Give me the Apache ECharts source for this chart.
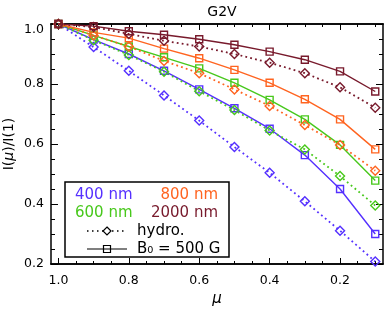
<!DOCTYPE html>
<html><head><meta charset="utf-8">
<script src="https://cdn.jsdelivr.net/npm/echarts@6/dist/echarts.min.js"></script>
<style>html,body{margin:0;padding:0;background:#fff}#c{width:387px;height:309px}</style>
</head><body><div id="c"></div>
<script>
// ---- data ----
const mu = [1.0, 0.9, 0.8, 0.7, 0.6, 0.5, 0.4, 0.3, 0.2, 0.1];
const hydro400  = [1.0, 0.923, 0.844, 0.762, 0.678, 0.590, 0.504, 0.409, 0.311, 0.208];
const mag400    = [1.0, 0.948, 0.900, 0.844, 0.782, 0.719, 0.651, 0.563, 0.450, 0.300];
const hydro600  = [1.0, 0.946, 0.897, 0.841, 0.776, 0.713, 0.645, 0.582, 0.493, 0.395];
const mag600    = [1.0, 0.962, 0.925, 0.889, 0.852, 0.804, 0.747, 0.682, 0.597, 0.478];
const hydro800  = [1.0, 0.962, 0.925, 0.877, 0.836, 0.782, 0.727, 0.663, 0.597, 0.511];
const mag800    = [1.0, 0.972, 0.953, 0.918, 0.886, 0.847, 0.804, 0.749, 0.682, 0.582];
const hydro2000 = [1.0, 0.990, 0.967, 0.944, 0.925, 0.900, 0.871, 0.836, 0.789, 0.721];
const mag2000   = [1.0, 0.993, 0.976, 0.964, 0.949, 0.931, 0.908, 0.881, 0.842, 0.775];
const xMajorTicks = [1.0, 0.8, 0.6, 0.4, 0.2];
const xMinorTicks = [0.95, 0.9, 0.85, 0.75, 0.7, 0.65, 0.55, 0.5, 0.45, 0.35, 0.3, 0.25, 0.15, 0.1];
const legendLabels = ['400 nm', '600 nm', '800 nm', '2000 nm'];

// ---- style ----
const C400 = '#5530ff', C600 = '#48c81c', C800 = '#ff6420', C2000 = '#781a2c';
const FONT = 'DejaVu Sans';
const xMin = 0.078, xMax = 1.021;

function mk(name, vals, color, hydro) {
  return {
    name, type: 'line', xAxisIndex: 0, yAxisIndex: 0,
    data: mu.map((m, i) => [m, vals[i]]),
    symbol: hydro ? 'diamond' : 'rect',
    symbolSize: hydro ? 9 : 7,
    showSymbol: true, animation: false, silent: true,
    lineStyle: { color, width: hydro ? 1.8 : 1.4, type: hydro ? [1.8, 3.2] : 'solid' },
    itemStyle: { color: 'rgba(0,0,0,0)', borderColor: color, borderWidth: 1.4 }
  };
}
function xa(pos, vals, len, labels) {
  return {
    type: 'value', position: pos, min: xMin, max: xMax, inverse: true, gridIndex: 0,
    axisLine: { show: true, onZero: false, lineStyle: { color: '#000', width: 1.5 } },
    axisTick: { show: true, inside: true, length: len, customValues: vals, lineStyle: { color: '#000', width: 1 } },
    axisLabel: labels ? { show: true, customValues: vals, margin: 10, color: '#000', fontFamily: FONT, fontSize: 12.5,
      formatter: v => Number(v).toFixed(1) } : { show: false },
    splitLine: { show: false },
    name: labels && pos === 'bottom' ? 'μ' : '',
    nameLocation: 'middle', nameGap: 28,
    nameTextStyle: { fontFamily: FONT, fontSize: 15, fontStyle: 'italic', color: '#000' }
  };
}
function ya(pos, labels) {
  return {
    type: 'value', position: pos, min: 0.2, max: 1.0, interval: 0.2, gridIndex: 0,
    axisLine: { show: true, onZero: false, lineStyle: { color: '#000', width: 1.5 } },
    axisTick: { show: true, inside: true, length: 7, lineStyle: { color: '#000', width: 1 } },
    minorTick: { show: true, splitNumber: 4, length: 4, lineStyle: { color: '#000', width: 1 } },
    minorSplitLine: { show: false },
    splitLine: { show: false },
    axisLabel: labels ? { show: true, margin: 7, color: '#000', fontFamily: FONT, fontSize: 12.5,
      formatter: v => Math.abs(v - 1) < 1e-9 ? '{top|1.0}' : Number(v).toFixed(1),
      rich: { top: { padding: [12, 0, 0, 0], fontFamily: FONT, fontSize: 12.5, color: '#000' } } } : { show: false },
    name: labels ? 'I({i|μ})/I(1)' : '',
    nameLocation: 'middle', nameGap: 35, nameRotate: 90, nameMoveOverlap: false,
    nameTextStyle: { fontFamily: FONT, fontSize: 14, color: '#000',
      rich: { i: { fontStyle: 'italic', fontFamily: FONT, fontSize: 14, color: '#000' } } }
  };
}

const chart = echarts.init(document.getElementById('c'), null, { renderer: 'canvas' });
const lx = 65, ly = 182;
const LF = '15px ' + FONT;
chart.setOption({
  backgroundColor: '#fff',
  animation: false,
  title: { text: 'G2V', left: 217, top: 0, textAlign: 'center',
    textStyle: { fontFamily: FONT, fontSize: 14, fontWeight: 'normal', color: '#000' } },
  grid: { left: 51, top: 24, width: 332, height: 240, containLabel: false, outerBoundsMode: 'none' },
  xAxis: [xa('bottom', xMajorTicks, 6, true), xa('bottom', xMinorTicks, 3, false),
          xa('top', xMajorTicks, 6, false), xa('top', xMinorTicks, 3, false)],
  yAxis: [ya('left', true), ya('right', false)],
  series: [
    mk('h400', hydro400, C400, true), mk('m400', mag400, C400, false),
    mk('h600', hydro600, C600, true), mk('m600', mag600, C600, false),
    mk('h800', hydro800, C800, true), mk('m800', mag800, C800, false),
    mk('h2000', hydro2000, C2000, true), mk('m2000', mag2000, C2000, false)
  ],
  graphic: [
    { type: 'rect', z: 100, shape: { x: lx, y: ly, width: 164, height: 75 },
      style: { fill: '#fff', stroke: '#000', lineWidth: 1.5 } },
    { type: 'text', z: 101, x: lx + 10, y: ly + 13, style: { text: legendLabels[0], fill: C400, font: LF, verticalAlign: 'middle' } },
    { type: 'text', z: 101, x: lx + 10, y: ly + 31, style: { text: legendLabels[1], fill: C600, font: LF, verticalAlign: 'middle' } },
    { type: 'text', z: 101, x: lx + 153, y: ly + 13, style: { text: legendLabels[2], fill: C800, font: LF, verticalAlign: 'middle', align: 'right' } },
    { type: 'text', z: 101, x: lx + 153, y: ly + 31, style: { text: legendLabels[3], fill: C2000, font: LF, verticalAlign: 'middle', align: 'right' } },
    { type: 'line', z: 101, shape: { x1: lx + 22, y1: ly + 49, x2: lx + 62, y2: ly + 49 },
      style: { stroke: '#000', lineWidth: 1.5, lineDash: [1.5, 3.5] } },
    { type: 'polygon', z: 102, shape: { points: [[lx + 42, ly + 45], [lx + 46, ly + 49], [lx + 42, ly + 53], [lx + 38, ly + 49]] },
      style: { fill: '#fff', stroke: '#000', lineWidth: 1.2 } },
    { type: 'text', z: 101, x: lx + 72, y: ly + 49, style: { text: 'hydro.', fill: '#000', font: LF, verticalAlign: 'middle' } },
    { type: 'line', z: 101, shape: { x1: lx + 22, y1: ly + 67, x2: lx + 62, y2: ly + 67 },
      style: { stroke: '#000', lineWidth: 1.2 } },
    { type: 'rect', z: 102, shape: { x: lx + 38.5, y: ly + 63.5, width: 7, height: 7 },
      style: { fill: 'rgba(0,0,0,0)', stroke: '#000', lineWidth: 1.2 } },
    { type: 'text', z: 101, x: lx + 72, y: ly + 67, style: { text: 'B₀ = 500 G', fill: '#000', font: LF, verticalAlign: 'middle' } }
  ]
});
</script>
</body></html>
